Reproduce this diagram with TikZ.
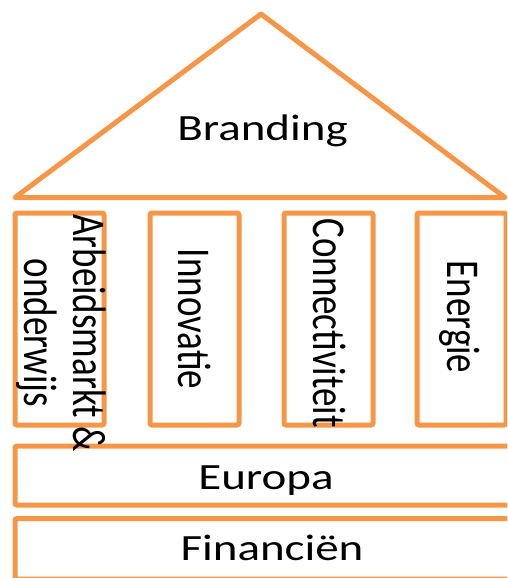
\documentclass[tikz,border=0pt]{standalone}
\usepackage{fontspec}
\setmainfont{Carlito}
\usepackage{graphicx}
\definecolor{housecol}{HTML}{F79646}
\begin{document}
\begin{tikzpicture}[x=1pt,y=-1pt,
  block/.style={draw=housecol, line width=5pt, rounded corners=2pt, inner sep=0pt},
  roofline/.style={draw=housecol, line width=5pt, line join=round},
  hlabel/.style={inner sep=0pt, anchor=base, font=\fontsize{37}{38.6}\selectfont},
  vlabel/.style={inner sep=0pt, anchor=base, rotate=-90, font=\fontsize{37}{38.6}\selectfont}]
\useasboundingbox (0,0) rectangle (507,578);
\clip (0,0) rectangle (507,578);
% roof
\coordinate (apex) at (261,14);
\coordinate (roofL) at (15,197.5);
\coordinate (roofR) at (505,197.5);
\draw[roofline] (roofL) -- (apex) -- (roofR) -- cycle;
% pillars
\node[block, minimum width=89pt, minimum height=212pt] (p1) at (59.5,319) {};
\node[block, minimum width=89pt, minimum height=212pt] (p2) at (194.5,319) {};
\node[block, minimum width=89pt, minimum height=212pt] (p3) at (328.5,319) {};
\node[block, minimum width=89pt, minimum height=212pt] (p4) at (461.5,319) {};
% base layers
\node[block, minimum width=505pt, minimum height=59pt] (europa) at (267.5,475.5) {};
\node[block, minimum width=515pt, minimum height=60.5pt] (fin) at (272.5,548.75) {};
% texts
\node[hlabel] (branding) at (262.5,140) {\scalebox{1.27}[1]{Branding}};
\node[vlabel] (t1) at (24,333) {\scalebox{1}[1.27]{\begin{tabular}[b]{@{}c@{}}Arbeidsmarkt \&\\onderwijs\end{tabular}}};
\node[vlabel] (t2) at (178,319) {\scalebox{1}[1.27]{Innovatie}};
\node[vlabel] (t3) at (313,323) {\scalebox{1}[1.27]{Connectiviteit}};
\node[vlabel] (t4) at (447,317) {\scalebox{1}[1.27]{Energie}};
\node[hlabel] (teuropa) at (266,489) {\scalebox{1.27}[1]{Europa}};
\node[hlabel] (tfin) at (272,560) {\scalebox{1.27}[1]{Financiën}};
\end{tikzpicture}
\end{document}
